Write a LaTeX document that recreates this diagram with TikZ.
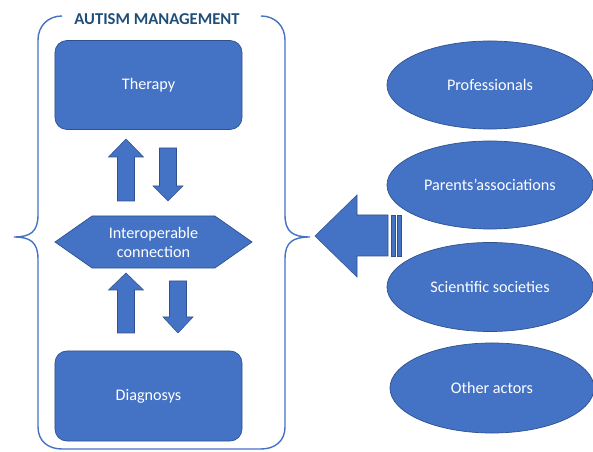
\documentclass[tikz,border=0pt]{standalone}
\usepackage{fontspec}
\setmainfont{Carlito}
\usepackage{xcolor}
\usepackage{tikz}
\usetikzlibrary{calc,shapes.geometric,shapes.symbols}

\definecolor{offblue}{HTML}{4472C4}
\definecolor{offedge}{HTML}{2F528F}
\definecolor{titleblue}{HTML}{1F4E79}

\begin{document}
\begin{tikzpicture}[x=0.025cm, y=-0.025cm,
        box/.style={draw=offedge, fill=offblue, line width=0.5pt, text=white,
            font=\fontsize{11.5}{13.5}\selectfont, inner sep=0pt},
        block/.style={draw=offedge, fill=offblue, line width=0.4pt},
        frame/.style={draw=offblue, line width=1pt}]
        \useasboundingbox (0,0) rectangle (593,452);

        % left side
        \node[box, rectangle, rounded corners=0.3cm, minimum width=4.675cm,
            minimum height=2.225cm] (therapy) at (148.5,85) {Therapy};
        \node[box, signal, signal to=west and east, signal pointer angle=70,
            minimum width=4.925cm, minimum height=1.3cm, align=center]
            (interop) at (153.5,242) {Interoperable\\connection};
        \node[box, rectangle, rounded corners=0.3cm, minimum width=4.675cm,
            minimum height=2.25cm] (diagnosys) at (148.5,396) {Diagnosys};

        \node[text=titleblue, font=\fontsize{11.8}{13}\selectfont\bfseries,
            inner sep=0pt] (title) at (157,19) {AUTISM MANAGEMENT};

        % actors
        \node[box, ellipse, minimum width=5.15cm, minimum height=2.2cm] (prof)
            at (490,85) {Professionals};
        \node[box, ellipse, minimum width=5.15cm, minimum height=2.2cm] (parents)
            at (490,185) {Parents’associations};
        \node[box, ellipse, minimum width=5.15cm, minimum height=2.225cm] (sci)
            at (490,287) {Scientific societies};
        \node[box, ellipse, minimum width=5.1cm, minimum height=2.25cm] (others)
            at (492,388) {Other actors};

        % the bracket round the left side
        \draw[frame] (62,16) .. controls (48,16) and (38,26) .. (38,40)
            -- (38,215) .. controls (38,232) and (30,237) .. (14,237)
            .. controls (30,237) and (38,242) .. (38,259)
            -- (38,427) .. controls (38,441) and (48,449) .. (62,449)
            -- (261,449) .. controls (275,449) and (285,441) .. (285,427)
            -- (285,259) .. controls (285,242) and (293,237) .. (310,237)
            .. controls (293,237) and (285,232) .. (285,215)
            -- (285,40) .. controls (285,26) and (275,16) .. (261,16);

        % up and down arrows: centre/tip/head base/tail
        \foreach \cx/\ya/\yh/\yb/\hw in {126/139/157/201/17.5, 126/273/290/333/17.5,
                168/201/186/148/15, 178/333/317/281/15} {
            \filldraw[block] (\cx,\ya) -- (\cx+\hw,\yh) -- (\cx+8.5,\yh)
                -- (\cx+8.5,\yb) -- (\cx-8.5,\yb) -- (\cx-8.5,\yh)
                -- (\cx-\hw,\yh) -- cycle;
        }

        % big arrow into the bracket
        \filldraw[block] (315,236) -- (357,195) -- (357,215) -- (388,215)
            -- (388,256) -- (357,256) -- (357,277) -- cycle;
        \foreach \sx in {391,397} {
            \filldraw[block] (\sx,215) rectangle (\sx+4.5,256);
        }
    \end{tikzpicture}
\end{document}
